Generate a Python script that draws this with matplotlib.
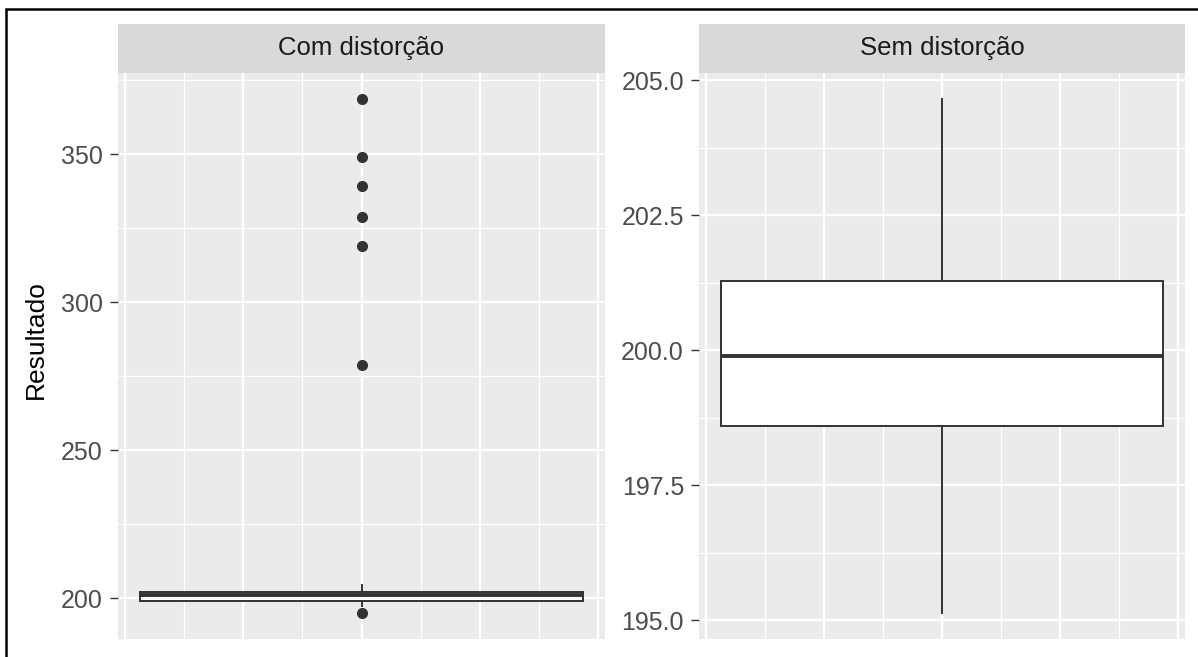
import matplotlib.pyplot as plt
from matplotlib.patches import Rectangle
import numpy as np

# valores (boxplot do ggplot, facet com escala livre)
paineis = ['Com distorção', 'Sem distorção']
bigode_inf = [197.3, 195.13]
q1 = [198.9, 198.6]
mediana = [201.0, 199.9]
q3 = [202.0, 201.28]
bigode_sup = [204.4, 204.66]
outliers_com = [194.9, 278.9, 319.0, 328.9, 339.1, 348.9, 368.7]
outliers_sem = []
outliers = [outliers_com, outliers_sem]

ticks_y = [[200, 250, 300, 350], [195.0, 197.5, 200.0, 202.5, 205.0]]
labels_y = [['200', '250', '300', '350'], ['195.0', '197.5', '200.0', '202.5', '205.0']]
minor_y = [[225, 275, 325, 375], [196.25, 198.75, 201.25, 203.75]]

W, H = 1198, 657
fig = plt.figure(figsize=(W / 100, H / 100), dpi=100)
plt.rcParams['font.family'] = ['Liberation Sans', 'DejaVu Sans']

# posicoes dos paineis em pixels (esquerda, direita)
xs = [(118, 605), (699, 1185)]
topo_strip, topo_painel, base_painel = 24, 73, 639

for i in range(2):
    x0, x1 = xs[i]
    ax = fig.add_axes([x0 / W, (H - base_painel) / H, (x1 - x0) / W, (base_painel - topo_painel) / H])
    ax.set_facecolor('#EBEBEB')
    for s in ax.spines.values():
        s.set_visible(False)

    stats = [{'whislo': bigode_inf[i], 'q1': q1[i], 'med': mediana[i], 'q3': q3[i],
              'whishi': bigode_sup[i], 'fliers': outliers[i]}]
    ax.bxp(stats, positions=[0], widths=0.75, showcaps=False, patch_artist=True,
           boxprops=dict(facecolor='white', edgecolor='#333333', linewidth=1.4),
           whiskerprops=dict(color='#333333', linewidth=1.4),
           medianprops=dict(color='#333333', linewidth=2.8),
           flierprops=dict(marker='o', markerfacecolor='#333333', markeredgecolor='#333333',
                           markersize=7))

    # limites como o ggplot: 5% de expansao
    todos = [bigode_inf[i], bigode_sup[i]] + outliers[i]
    lo, hi = min(todos), max(todos)
    pad = (hi - lo) * 0.05
    ax.set_ylim(lo - pad, hi + pad)
    ax.set_xlim(-0.4125, 0.4125)

    ax.set_yticks(ticks_y[i])
    ax.set_yticklabels(labels_y[i])
    ax.set_yticks(minor_y[i], minor=True)
    ax.set_xticks([-0.4, -0.2, 0, 0.2, 0.4])
    ax.set_xticks([-0.3, -0.1, 0.1, 0.3], minor=True)
    ax.grid(which='major', color='white', linewidth=1.6)
    ax.grid(which='minor', color='white', linewidth=0.9)
    ax.set_axisbelow(True)

    ax.tick_params(axis='y', which='major', length=5.8, width=1.0, color='#333333',
                   labelsize=18, labelcolor='#4D4D4D', pad=5)
    ax.tick_params(axis='y', which='minor', length=0)
    ax.tick_params(axis='x', which='both', length=0, labelbottom=False)

    # faixa do facet
    sax = fig.add_axes([x0 / W, (H - topo_painel) / H, (x1 - x0) / W, (topo_painel - topo_strip) / H])
    sax.set_facecolor('#D9D9D9')
    sax.set_xticks([])
    sax.set_yticks([])
    for s in sax.spines.values():
        s.set_visible(False)
    sax.text(0.5, 0.5, paineis[i], ha='center', va='center', fontsize=18.5, color='#1A1A1A',
             transform=sax.transAxes)

fig.text(36 / W, (H - 340) / H, 'Resultado', rotation=90, ha='center', va='center',
         fontsize=19, color='black')

# moldura preta da captura de tela
fig.patches.append(Rectangle((6 / W, -0.1), 1.2, (H - 9) / H + 0.1, transform=fig.transFigure,
                             fill=False, edgecolor='black', linewidth=1.8, clip_on=False))

fig.savefig('out.png', dpi=100)
